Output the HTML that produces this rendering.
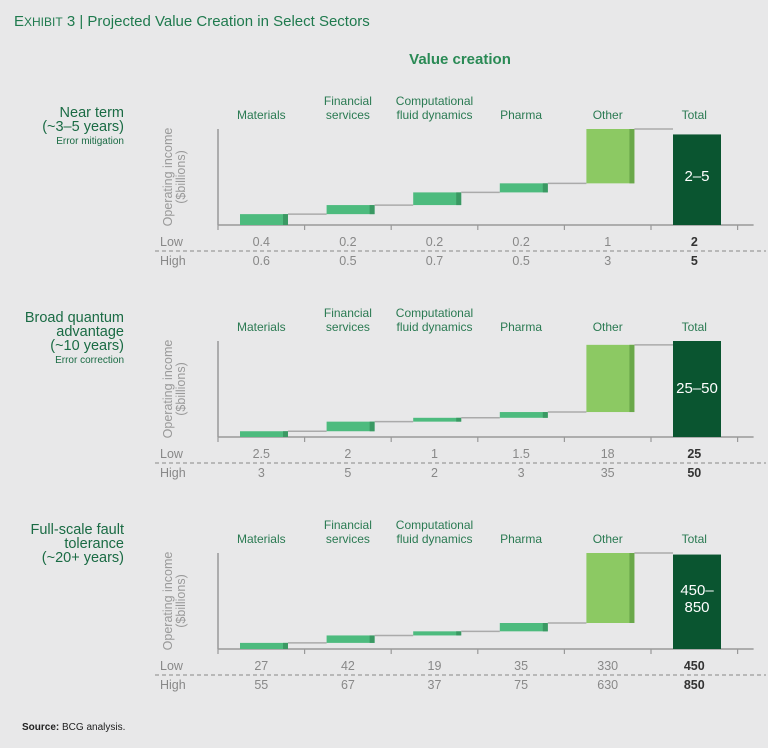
<!DOCTYPE html>
<html><head><meta charset="utf-8"><style>
body{margin:0;background:#e8e8e9;font-family:"Liberation Sans",sans-serif;}
#wrap{position:relative;width:768px;height:748px;overflow:hidden;background:#e8e8e9;}
svg text{font-family:"Liberation Sans",sans-serif;}
</style></head><body>
<div id="wrap">
<svg id="chart" width="768" height="748">
<text x="14" y="26" fill="#1f7a4e" font-size="15">E<tspan font-size="12">XHIBIT</tspan> 3 | Projected Value Creation in Select Sectors</text>
<text x="460" y="64" fill="#2a8a55" font-size="15" font-weight="bold" text-anchor="middle">Value creation</text>
<text x="22" y="730" fill="#222" font-size="10"><tspan font-weight="bold">Source:</tspan> BCG analysis.</text>
</svg>
</div>
<script>
const categories = ["Materials", "Financial services", "Computational fluid dynamics", "Pharma", "Other", "Total"];
const lowValues = [[0.4,0.2,0.2,0.2,1,2],[2.5,2,1,1.5,18,25],[27,42,19,35,330,450]];
const highValues = [[0.6,0.5,0.7,0.5,3,5],[3,5,2,3,35,50],[55,67,37,75,630,850]];
const totalLabels = ["2–5","25–50","450–850"];
const panelTitles = [["Near term","(~3–5 years)"],["Broad quantum","advantage","(~10 years)"],["Full-scale fault","tolerance","(~20+ years)"]];
const panelSubtitles = ["Error mitigation","Error correction",""];

const svg = document.getElementById('chart');
const NS = 'http://www.w3.org/2000/svg';
function mk(tag, attrs, text){
  const e = document.createElementNS(NS, tag);
  for (const k in attrs) e.setAttribute(k, attrs[k]);
  if (text !== undefined) e.textContent = text;
  svg.appendChild(e);
  return e;
}
const axisX = 218, colW = 86.6, barOff = 22, barW = 48, plotH = 96;
const catLabels = [["Materials"],["Financial","services"],["Computational","fluid dynamics"],["Pharma"],["Other"],["Total"]];
function xCol(i){ return axisX + i*colW; }

for (let p = 0; p < 3; p++) {
  const base = 225 + p*212;
  const hv = highValues[p];
  let cum = 0; const cums = [];
  for (let i = 0; i < 5; i++) { cum += hv[i]; cums.push(cum); }
  const maxV = Math.max(cum, hv[5]);
  const y = v => base - v/maxV*plotH;

  const lines = panelTitles[p];
  lines.forEach((t, k) => {
    const e = mk('text', {x:124, y:117 + p*212 + k*14 - (lines.length===3?7:0), 'text-anchor':'end', fill:'#1a6b44', 'font-size':14.5}, t);
    
    
  });
  if (panelSubtitles[p]) {
    const e = mk('text', {x:124, y:144 + p*212 + (lines.length===3?7:0), 'text-anchor':'end', fill:'#1a6b44', 'font-size':10}, panelSubtitles[p]);
    
    
  }
  const yt = mk('text', {transform:`translate(172,${base-48}) rotate(-90)`, 'text-anchor':'middle', fill:'#999', 'font-size':12.5}, 'Operating income');
  
  
  const yt2 = mk('text', {transform:`translate(185,${base-48}) rotate(-90)`, 'text-anchor':'middle', fill:'#999', 'font-size':12.5}, '($billions)');
  
  
  const ax = mk('line', {x1:axisX, y1:base-96, x2:axisX, y2:base, stroke:'#999', 'stroke-width':1.5});
  
  
  const bl = mk('line', {x1:axisX, y1:base, x2:axisX+6*colW+16, y2:base, stroke:'#999', 'stroke-width':1.5});
  
  
  for (let i = 0; i <= 6; i++) {
    const t = mk('line', {x1:xCol(i), y1:base, x2:xCol(i), y2:base+5, stroke:'#999', 'stroke-width':1.2});
    
    
  }
  catLabels.forEach((ls, i) => {
    ls.forEach((t, k) => {
      const e = mk('text', {x:xCol(i)+colW/2, y:base-106 + (k - (ls.length-1))*14, 'text-anchor':'middle', fill:'#2a7a52', 'font-size':12}, t);
      
      
    });
  });
  let prev = 0;
  for (let i = 0; i < 5; i++) {
    const x0 = xCol(i) + barOff;
    const top = y(cums[i]), bot = y(prev);
    const other = i === 4;
    const r = mk('rect', {x:x0, y:top, width:barW, height:Math.max(bot-top,1), fill: other ? '#8cc963' : '#4dbb7e'});
    
    
    const d = mk('rect', {x:x0+barW-5, y:top, width:5, height:Math.max(bot-top,1), fill: other ? '#6aa84a' : '#3a9963'});
    
    
    const cn = mk('line', {x1:x0+barW, y1:top, x2:xCol(i+1)+barOff, y2:top, stroke:'#aaa', 'stroke-width':1.5});
    
    
    prev = cums[i];
  }
  const tx = xCol(5) + barOff;
  const tr = mk('rect', {x:tx, y:y(hv[5]) , width:barW, height:base - y(hv[5]), fill:'#0a5530'});
  
  
  const tl = totalLabels[p];
  if (tl.length > 6) {
    const parts = tl.split('–');
    const a = mk('text', {x:tx+barW/2, y:base-54, 'text-anchor':'middle', fill:'#fff', 'font-size':15}, parts[0] + '–');
    
    
    const b = mk('text', {x:tx+barW/2, y:base-37, 'text-anchor':'middle', fill:'#fff', 'font-size':15}, parts[1]);
    
    
  } else {
    const a = mk('text', {x:tx+barW/2, y:base-44, 'text-anchor':'middle', fill:'#fff', 'font-size':15}, tl);
    
    
  }
  const lw = mk('text', {x:160, y:base+21, fill:'#888', 'font-size':12.5}, 'Low');
  
  
  const hg = mk('text', {x:160, y:base+40, fill:'#888', 'font-size':12.5}, 'High');
  
  
  const ds = mk('line', {x1:155, y1:base+26, x2:766, y2:base+26, stroke:'#888', 'stroke-width':1, 'stroke-dasharray':'4,3'});
  
  
  for (let i = 0; i < 6; i++) {
    const cx = xCol(i) + colW/2;
    const bold = i === 5 ? {'font-weight':'bold', fill:'#333'} : {fill:'#888'};
    const l = mk('text', Object.assign({x:cx, y:base+21, 'text-anchor':'middle', 'font-size':12.5}, bold), String(lowValues[p][i]));
    
    
    const h = mk('text', Object.assign({x:cx, y:base+40, 'text-anchor':'middle', 'font-size':12.5}, bold), String(highValues[p][i]));
    
    
  }
}
</script>
</body></html>
